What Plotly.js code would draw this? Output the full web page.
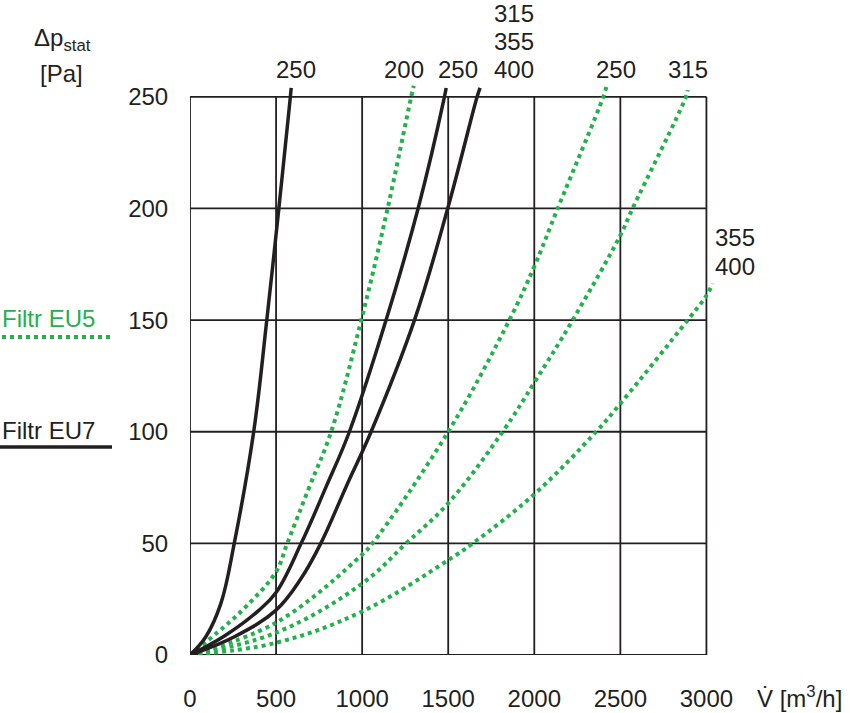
<!DOCTYPE html>
<html>
<head>
<meta charset="utf-8">
<script src="https://cdn.plot.ly/plotly-3.0.1.min.js"></script>
<style>
  html, body { margin: 0; padding: 0; background: #fff; }
  #chart { width: 850px; height: 713px; }
</style>
</head>
<body>
<div id="chart"></div>
<script>
// Filtr EU7 (black, solid)
const eu7_250a_V = [0, 92, 179, 257, 370, 446, 516, 583, 588];
const eu7_250a_p = [0, 8.2, 23, 50, 100, 150, 200, 250, 254];
const eu7_250b_V = [0, 200, 400, 500, 646, 791, 926, 1139, 1325, 1478, 1488];
const eu7_250b_p = [0, 8.5, 20, 28, 50, 75.4, 100, 150, 200, 250, 254];
const eu7_315_V = [0, 258, 500, 643, 760, 907, 1052, 1304, 1497, 1668, 1685];
const eu7_315_p = [0, 8.2, 20.1, 34, 50, 75.4, 100, 150, 200, 250, 254];

// Filtr EU5 (green, dotted)
const eu5_200_V = [0, 199, 324, 500, 565, 694, 820, 995, 1148, 1285, 1300];
const eu5_200_p = [0, 12.7, 21.6, 37.3, 50, 75.4, 100, 150, 200, 250, 255];
const eu5_250_V = [0, 500, 1000, 1060, 1500, 1855, 2000, 2136, 2401, 2420];
const eu5_250_p = [0, 14.5, 45, 50, 100, 150, 174, 200, 250, 254.8];
const eu5_315_V = [0, 500, 1000, 1255, 1500, 1816, 2000, 2223, 2500, 2571, 2881, 2891];
const eu5_315_p = [0, 10, 32, 50, 68, 100, 122, 150, 188, 200, 250, 253];
const eu5_355_V = [0, 500, 1000, 1500, 1642, 2000, 2359, 2500, 2891, 3000, 3036];
const eu5_355_p = [0, 5.5, 19.5, 42.5, 50, 72, 100, 112.6, 150, 161, 166.4];

const xTicks = [0, 500, 1000, 1500, 2000, 2500, 3000];
const yTicks = [0, 50, 100, 150, 200, 250];

// curve size labels (pixel centres)
const curveLabels = [
    { text: '250', x: 296, y: 69 },
    { text: '200', x: 404, y: 69 },
    { text: '250', x: 458, y: 69 },
    { text: '315', x: 514, y: 13 },
    { text: '355', x: 514, y: 41 },
    { text: '400', x: 514, y: 69 },
    { text: '250', x: 616, y: 69 },
    { text: '315', x: 688, y: 69 },
    { text: '355', x: 735, y: 237 },
    { text: '400', x: 735, y: 266 }
];

const BLACK = '#231f20';
const GREEN = '#22b24c';
const FONT = 'Liberation Sans, Arial, sans-serif';

// plot area in pixels
const L = 190, R = 136, T = 83, B = 58;
const W = 850 - L - R, H = 713 - T - B;
const px = X => (X - L) / W;
const py = Y => (713 - B - Y) / H;

function curve(V, p, green) {
    return {
        x: V, y: p, type: 'scatter', mode: 'lines',
        line: green
            ? { color: GREEN, width: 4, dash: 'dot', shape: 'spline', smoothing: 1.1 }
            : { color: BLACK, width: 3.5, shape: 'spline', smoothing: 1.1 },
        hoverinfo: 'skip', showlegend: false
    };
}

const data = [
    curve(eu5_200_V, eu5_200_p, true),
    curve(eu5_250_V, eu5_250_p, true),
    curve(eu5_315_V, eu5_315_p, true),
    curve(eu5_355_V, eu5_355_p, true),
    curve(eu7_250a_V, eu7_250a_p, false),
    curve(eu7_250b_V, eu7_250b_p, false),
    curve(eu7_315_V, eu7_315_p, false)
];

function label(x, y, text, anchor, color) {
    return {
        xref: 'paper', yref: 'paper', x: px(x), y: py(y), text: text,
        showarrow: false, xanchor: anchor, yanchor: 'middle',
        font: { family: FONT, size: 24, color: color || BLACK }
    };
}

const annotations = curveLabels.map(c => label(c.x, c.y, c.text, 'center'));
annotations.push(
    label(62, 40, 'Δp<sub>stat</sub>', 'center'),
    label(61, 74, '[Pa]', 'center'),
    label(755, 697, 'V̇ [m<sup>3</sup>/h]', 'left'),
    label(0, 318, 'Filtr EU5', 'left', GREEN),
    label(0, 430, 'Filtr EU7', 'left')
);

// grid and frame, only inside 0..3000 x 0..250
const xMax = xTicks[xTicks.length - 1], yMax = yTicks[yTicks.length - 1];
const gridLine = { color: BLACK, width: 1.8 };
const shapes = [];
xTicks.forEach(v => shapes.push({ type: 'line', xref: 'x', yref: 'y', layer: 'below',
    x0: v, x1: v, y0: 0, y1: yMax, line: gridLine }));
yTicks.forEach(v => shapes.push({ type: 'line', xref: 'x', yref: 'y', layer: 'below',
    x0: 0, x1: xMax, y0: v, y1: v, line: gridLine }));

// legend samples
shapes.push(
    { type: 'line', xref: 'paper', yref: 'paper', x0: px(2), x1: px(112), y0: py(337), y1: py(337),
      line: { color: GREEN, width: 4, dash: 'dot' } },
    { type: 'line', xref: 'paper', yref: 'paper', x0: px(0), x1: px(112), y0: py(447), y1: py(447),
      line: { color: BLACK, width: 3.5 } }
);

const layout = {
    width: 850, height: 713,
    margin: { l: L, r: R, t: T, b: B, pad: 0 },
    paper_bgcolor: '#fff', plot_bgcolor: 'rgba(0,0,0,0)',
    showlegend: false,
    xaxis: {
        range: [0, 3044], tickvals: xTicks, ticktext: xTicks.map(String),
        showgrid: false, showline: false, zeroline: false,
        ticks: 'outside', ticklen: 22, tickcolor: 'rgba(0,0,0,0)',
        tickfont: { family: FONT, size: 24, color: BLACK }, fixedrange: true
    },
    yaxis: {
        range: [0, 256.2], tickvals: yTicks, ticktext: yTicks.map(String),
        showgrid: false, showline: false, zeroline: false,
        ticks: 'outside', ticklen: 16, tickcolor: 'rgba(0,0,0,0)',
        tickfont: { family: FONT, size: 24, color: BLACK }, fixedrange: true
    },
    annotations: annotations,
    shapes: shapes
};

Plotly.newPlot('chart', data, layout, { displayModeBar: false, staticPlot: true });
</script>
</body>
</html>
